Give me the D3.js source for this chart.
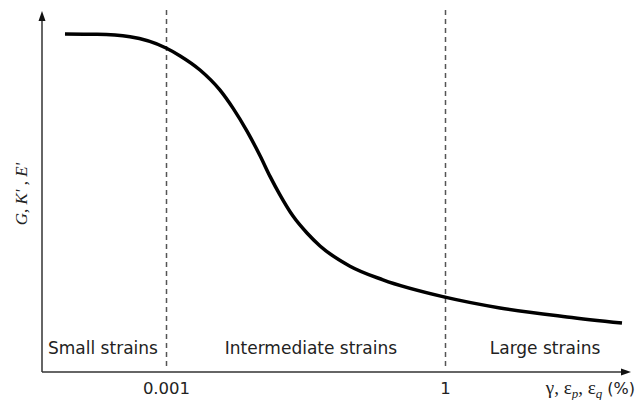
<!DOCTYPE html>
<html><head><meta charset="utf-8">
<script src="https://cdn.jsdelivr.net/npm/d3@7"></script>
<style>
html,body{margin:0;padding:0;background:#fff;}
svg{display:block;}
</style>
</head><body>
<script>
// Data: strain (%) vs normalised stiffness
const strain = [0.000082, 0.000181, 0.00041, 0.001, 0.00142, 0.00232, 0.00381, 0.00525, 0.00743, 0.0103, 0.0131, 0.0168, 0.0232, 0.0328, 0.0453, 0.0951, 0.215, 1, 3.9, 20.5, 80];
const stiffness = [0.939, 0.938, 0.931, 0.900, 0.878, 0.839, 0.783, 0.733, 0.669, 0.600, 0.544, 0.492, 0.433, 0.386, 0.350, 0.294, 0.256, 0.208, 0.178, 0.153, 0.136];
const tickValues = [0.001, 1];
const tickLabels = ["0.001", "1"];
const zoneLabels = ["Small strains", "Intermediate strains", "Large strains"];
const zoneCentres = [0.00021, 0.0362, 11.9]; // strain positions of zone label centres

const W = 637, H = 400;
const svg = d3.select("body").append("svg").attr("width", W).attr("height", H);

const x = d3.scaleLog().domain([0.001, 1]).range([166, 445]);
const y = d3.scaleLinear().domain([0, 1]).range([372, 12]);

const axisColor = "#333";
const x0 = 42, yAxis = 372, xEnd = 631, yTop = 11;

// dashed boundaries
svg.selectAll("line.bound").data(tickValues).enter().append("line")
  .attr("class", "bound")
  .attr("x1", d => Math.round(x(d)) + 0.5).attr("x2", d => Math.round(x(d)) + 0.5)
  .attr("y1", 10).attr("y2", 366)
  .attr("stroke", "#555").attr("stroke-width", 1.5).attr("stroke-dasharray", "5,4");

// axes lines
svg.append("line").attr("x1", x0).attr("x2", x0).attr("y1", yAxis).attr("y2", yTop + 8)
  .attr("stroke", axisColor).attr("stroke-width", 1.5);
svg.append("line").attr("x1", x0).attr("x2", xEnd - 8).attr("y1", yAxis).attr("y2", yAxis)
  .attr("stroke", axisColor).attr("stroke-width", 1.5);
svg.append("path").attr("d", `M${x0},${yTop} L${x0 - 3.5},${yTop + 10} L${x0 + 3.5},${yTop + 10} Z`).attr("fill", "#111");
svg.append("path").attr("d", `M${xEnd},${yAxis} L${xEnd - 10},${yAxis - 3.5} L${xEnd - 10},${yAxis + 3.5} Z`).attr("fill", "#111");

// x ticks via axis
const ax = d3.axisBottom(x).tickValues(tickValues).tickSize(0).tickPadding(0)
  .tickFormat((d, i) => tickLabels[i]);
const g = svg.append("g").attr("transform", `translate(0,${yAxis})`).call(ax);
g.select(".domain").remove();
g.selectAll("text").attr("dy", null).attr("y", 22)
  .attr("font-family", "DejaVu Sans, sans-serif").attr("font-size", 16.5).attr("fill", "#222");

// curve
const pts = strain.map((s, i) => [s, stiffness[i]]);
const line = d3.line().x(d => x(d[0])).y(d => y(d[1])).curve(d3.curveMonotoneX);
svg.append("path").attr("d", line(pts)).attr("fill", "none")
  .attr("stroke", "#000").attr("stroke-width", 3.5).attr("stroke-linecap", "butt");

// zone labels
svg.selectAll("text.zone").data(zoneLabels).enter().append("text")
  .attr("class", "zone")
  .attr("x", (d, i) => x(zoneCentres[i])).attr("y", 354)
  .attr("text-anchor", "middle")
  .attr("font-family", "DejaVu Sans, sans-serif").attr("font-size", 17).attr("fill", "#222")
  .text(d => d);

// y label
svg.append("text")
  .attr("transform", "translate(27,194) rotate(-90)")
  .attr("text-anchor", "middle")
  .attr("font-family", "Liberation Serif, DejaVu Serif, serif").attr("font-style", "italic")
  .attr("font-size", 17).attr("fill", "#222")
  .text("G, K' , E'");

// x label
const xl = svg.append("text").attr("x", 635).attr("y", 394).attr("text-anchor", "end")
  .attr("font-family", "Liberation Serif, DejaVu Serif, serif").attr("font-size", 19).attr("fill", "#222");
xl.append("tspan").text("γ, ε");
xl.append("tspan").attr("font-style", "italic").attr("font-size", 13).attr("dy", 4).text("p");
xl.append("tspan").attr("dy", -4).text(",  ε");
xl.append("tspan").attr("font-style", "italic").attr("font-size", 13).attr("dy", 4).text("q");
xl.append("tspan").attr("dy", -4).attr("font-family", "DejaVu Sans, sans-serif").attr("font-size", 16).text(" (%)");
</script>
</body></html>
